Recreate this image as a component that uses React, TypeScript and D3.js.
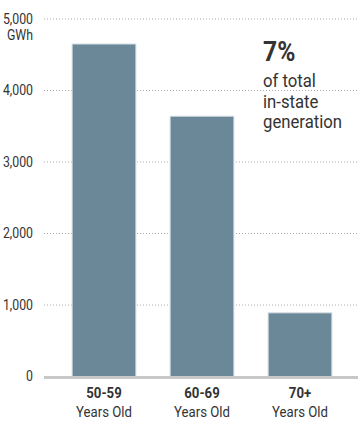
import React from "react";
import * as d3 from "d3";

const categories = ["50-59", "60-69", "70+"];
const subLabels = ["Years Old", "Years Old", "Years Old"];
const values = [4650, 3640, 890];
const yTicks = [0, 1000, 2000, 3000, 4000, 5000];
const unitLabel = "GWh";
const noteBig = "7%";
const noteLines = ["of total", "in-state", "generation"];

const W = 358;
const H = 438;
const FONT = "Roboto, sans-serif";
const SX = 0.88;

function T(props: any) {
  const { x, y, children, ...rest } = props;
  return (
    <text transform={`translate(${x},${y}) scale(${SX},1)`} fill="#333" {...rest}>
      {children}
    </text>
  );
}

export default function App() {
  const x = d3.scaleBand<string>().domain(categories).range([55, 349]).paddingInner(0.35).paddingOuter(0.175);
  const y = d3.scaleLinear().domain([0, 5000]).range([376.5, 19]);
  const fmt = d3.format(",");
  return (
    <svg width={W} height={H} style={{ position: "absolute", left: 0, top: 0, background: "#fff" }} fontFamily={FONT}>
      {yTicks.map((t) => (
        <g key={t}>
          {t > 0 && (
            <line x1={44} x2={358} y1={y(t)} y2={y(t)} stroke="#aaa" strokeWidth={1} strokeDasharray="1,2" />
          )}
          <T x={33} y={y(t)} dy="0.35em" textAnchor="end" fontSize={14}>{fmt(t)}</T>
        </g>
      ))}
      <T x={33} y={y(5000) + 16} dy="0.35em" textAnchor="end" fontSize={14}>{unitLabel}</T>
      {categories.map((c, i) => (
        <rect key={c} x={x(c)} y={y(values[i])} width={x.bandwidth()} height={y(0) - y(values[i])} fill="#6b8899" stroke="#d0d9de" strokeWidth={1} />
      ))}
      <line x1={44} x2={358} y1={y(0) + 1} y2={y(0) + 1} stroke="#c8c8c8" strokeWidth={3} />
      {categories.map((c, i) => {
        const cx = (x(c) as number) + x.bandwidth() / 2;
        return (
          <g key={c}>
            <T x={cx} y={398} textAnchor="middle" fontSize={15} fontWeight="bold">{c}</T>
            <T x={cx} y={417} textAnchor="middle" fontSize={15}>{subLabels[i]}</T>
          </g>
        );
      })}
      <T x={263} y={61} fontSize={28} fontWeight="bold">{noteBig}</T>
      {noteLines.map((l, i) => (
        <T key={l} x={263} y={87 + i * 20.5} fontSize={19}>{l}</T>
      ))}
    </svg>
  );
}
